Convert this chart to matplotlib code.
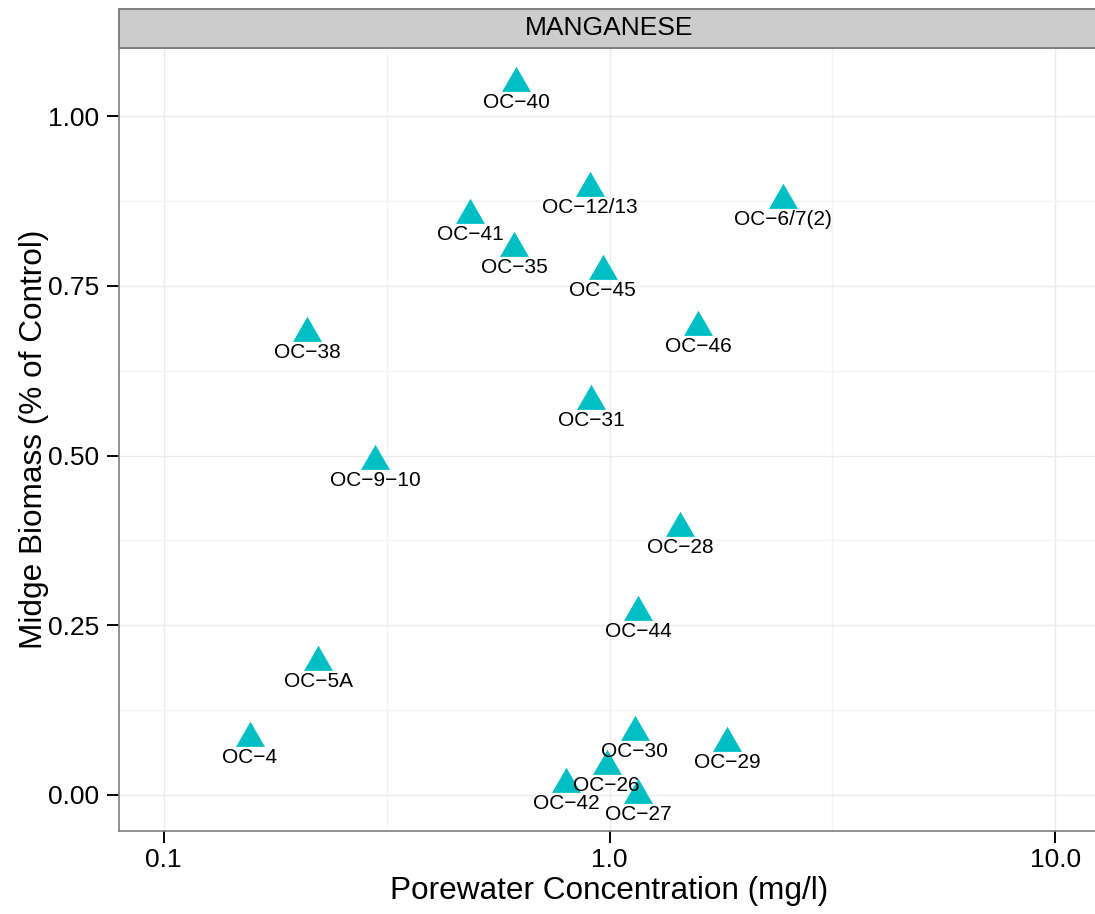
import numpy as np
import matplotlib
matplotlib.use("Agg")
import matplotlib.pyplot as plt
from matplotlib.ticker import FixedLocator, NullFormatter

plt.rcParams['font.family'] = ['Liberation Sans', 'DejaVu Sans']

# data
sites = ["OC\u221240", "OC\u221212/13", "OC\u221241", "OC\u221235", "OC\u221245",
         "OC\u22126/7(2)", "OC\u221246", "OC\u221238", "OC\u221231", "OC\u22129\u221210",
         "OC\u221228", "OC\u221244", "OC\u22125A", "OC\u22124", "OC\u221230",
         "OC\u221229", "OC\u221226", "OC\u221242", "OC\u221227"]
conc = [0.617, 0.905, 0.487, 0.612, 0.965,
        2.455, 1.579, 0.210, 0.909, 0.298,
        1.440, 1.161, 0.222, 0.156, 1.138,
        1.833, 0.985, 0.800, 1.161]
biomass = [1.049, 0.894, 0.855, 0.806, 0.772,
           0.877, 0.690, 0.681, 0.581, 0.492,
           0.393, 0.270, 0.196, 0.084, 0.093,
           0.076, 0.042, 0.016, 0.000]

x_ticks = [0.1, 1.0, 10.0]
x_ticklabels = ["0.1", "1.0", "10.0"]
y_ticks = [0.0, 0.25, 0.5, 0.75, 1.0]
y_ticklabels = ["0.00", "0.25", "0.50", "0.75", "1.00"]

W, H = 1095, 914
fig = plt.figure(figsize=(W / 100, H / 100), dpi=100)

left, right, bottom, top = 119, 1100, 830.5, 47.5
ax = fig.add_axes([left / W, 1 - bottom / H, (right - left) / W, (bottom - top) / H])

# triangle with its centroid at the origin (like R's pch 17)
tri = [(0, 1), (-0.866, -0.5), (0.866, -0.5)]
ax.scatter(conc, biomass, marker=tri, s=581, color="#00BFC4", linewidths=0, zorder=3)
for s, x, y in zip(sites, conc, biomass):
    ax.annotate(s, (x, y), xytext=(0, -18), textcoords="offset points",
                ha="center", va="baseline", fontsize=15, color="black", zorder=4)

ax.set_xscale("log")
ax.set_xlim(10 ** -1.1, 10 ** 1.1)
yr = max(biomass) - min(biomass)
ax.set_ylim(min(biomass) - 0.05 * yr, max(biomass) + 0.05 * yr)

ax.xaxis.set_major_locator(FixedLocator(x_ticks))
ax.set_xticklabels(x_ticklabels)
ax.xaxis.set_minor_locator(FixedLocator([10 ** -0.5, 10 ** 0.5]))
ax.xaxis.set_minor_formatter(NullFormatter())
ax.set_yticks(y_ticks)
ax.set_yticklabels(y_ticklabels)
ax.yaxis.set_minor_locator(FixedLocator([0.125, 0.375, 0.625, 0.875]))

ax.grid(which="major", color="#ebebeb", linewidth=1.0, zorder=0)
ax.grid(which="minor", color="#f4f4f4", linewidth=1.0, zorder=0)
ax.set_axisbelow(True)
ax.tick_params(which="major", length=8.6, width=1.4, color="black",
               labelsize=19, labelcolor="black")
ax.tick_params(axis="y", pad=5.5)
ax.tick_params(axis="x", pad=4)
ax.tick_params(which="minor", length=0)
for sp in ax.spines.values():
    sp.set_color("#7f7f7f")
    sp.set_linewidth(1.2)

ax.set_xlabel("Porewater Concentration (mg/l)", fontsize=22.7, labelpad=3)
ax.set_ylabel("Midge Biomass (% of Control)", fontsize=22.7)
ax.yaxis.set_label_coords((49 - left) / (right - left), 0.5)

# facet strip
strip = fig.add_axes([left / W, 1 - top / H, (right - left) / W, (top - 9) / H])
strip.set_facecolor("#cccccc")
strip.set_xticks([])
strip.set_yticks([])
for sp in strip.spines.values():
    sp.set_color("#7f7f7f")
    sp.set_linewidth(1.4)
strip.text(0.5, 0.5, "MANGANESE", ha="center", va="center", fontsize=19,
           transform=strip.transAxes)

fig.savefig("out.png", dpi=100)
